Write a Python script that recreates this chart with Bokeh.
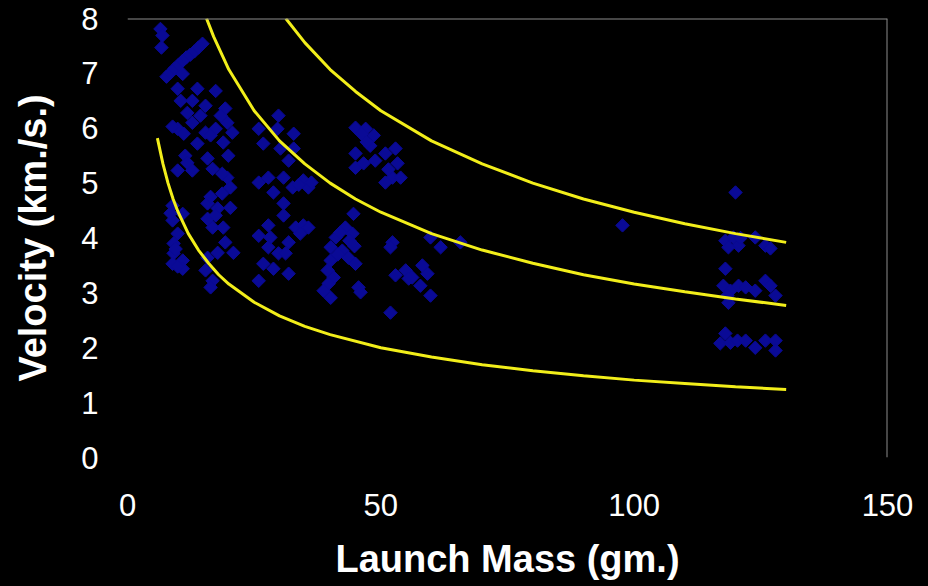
import numpy as np
from bokeh.plotting import figure
from bokeh.models import Range1d, Span, FixedTicker
from bokeh.embed import file_html
from bokeh.resources import INLINE

# ---- data ----
mass = [
    6.5, 6.9, 6.7,
    7.7, 8.5, 9.3, 10.1, 10.9, 11.6, 12.4, 13.2, 14.0, 14.8, 10.9,
    9.9, 13.8, 17.4, 10.5, 12.8, 15.4, 11.8, 14.4, 19.3, 18.4, 12.8, 9.9, 11.1, 15.4,
    17.4, 19.7, 20.7, 13.8, 18.9, 19.9, 11.4, 15.8, 11.8, 8.9, 16.4,
    9.9, 12.8, 16.8, 19.7, 20.3, 18.7, 15.8, 17.8, 20.3, 8.9, 10.9, 8.9, 15.8, 16.8,
    18.9, 9.9, 9.1, 19.3, 20.9, 9.1, 10.9, 8.9, 10.9, 15.8, 17.8, 15.4, 16.8, 16.4,
    17.4, 8.5, 9.5, 9.9, 18.7, 16.4,
    25.9, 29.8, 29.6, 32.8, 26.8, 30.2, 32.8, 31.8, 25.9, 27.8, 30.8, 28.8, 32.6,
    34.7, 35.7, 30.8, 30.8, 27.8, 25.9, 28.2, 33.2, 34.7, 34.1, 35.7, 31.8, 27.8,
    29.8, 31.2, 26.8, 28.8, 31.8, 25.9, 36.3, 33.8,
    45.0, 47.0, 48.6, 47.9, 45.0, 45.0, 46.6, 48.9, 50.9, 52.9, 53.3, 52.3, 50.9, 53.9,
    44.6, 43.0, 44.4, 41.1, 40.1, 42.4, 43.6, 45.0, 40.1, 39.5, 40.7, 39.7, 38.7, 40.1,
    45.6, 46.0, 52.3, 51.9, 52.9, 54.9, 55.5, 51.9,
    42.0, 43.8, 41.5, 44.8, 46.2, 47.2, 51.5,
    59.8, 61.8, 65.7, 56.2, 58.2, 59.2, 57.8, 59.8,
    97.7,
    120.0, 118.0, 119.6, 120.6, 118.6, 123.9, 125.9, 126.9, 118.0, 117.6, 119.0, 120.6,
    122.0, 123.9, 125.9, 126.9, 127.9, 118.6, 118.0, 117.0, 119.0, 120.4, 122.0, 123.9,
    125.9, 127.9, 127.9, 121.0, 118.4,
]
velocity = [
    7.81, 7.69, 7.47,
    6.94, 7.01, 7.09, 7.16, 7.23, 7.29, 7.34, 7.40, 7.47, 7.54, 6.99,
    6.72, 6.72, 6.68, 6.50, 6.50, 6.41, 6.28, 6.23, 6.36, 6.23, 6.10, 5.99, 5.90, 5.92,
    5.99, 6.10, 5.92, 5.72, 5.74, 5.50, 5.50, 5.45, 5.37, 6.03, 5.87,
    5.23, 5.23, 5.26, 5.10, 4.92, 4.81, 4.63, 4.54, 4.55, 4.59, 4.44, 4.32, 4.35, 4.19,
    4.19, 4.08, 3.90, 3.92, 3.73, 3.72, 3.59, 3.53, 3.44, 3.64, 3.73, 3.41, 3.22, 3.10,
    4.41, 4.45, 3.80, 3.48, 5.17, 4.75,
    5.99, 6.23, 5.99, 5.90, 5.72, 5.63, 5.63, 5.41, 5.01, 5.10, 5.10, 4.83, 4.92,
    5.05, 4.92, 4.63, 4.41, 4.23, 4.04, 4.01, 4.19, 4.23, 4.08, 4.19, 3.92, 3.83,
    3.72, 3.72, 3.53, 3.44, 3.35, 3.22, 5.01, 4.97,
    6.01, 5.99, 5.87, 5.68, 5.54, 5.28, 5.36, 5.41, 5.54, 5.63, 5.36, 5.10, 5.01, 5.10,
    4.44, 4.19, 4.08, 4.01, 3.83, 3.77, 3.64, 3.53, 3.59, 3.41, 3.28, 3.17, 3.04, 2.91,
    3.10, 3.01, 3.92, 3.83, 3.32, 3.41, 3.26, 2.64,
    4.10, 3.95, 3.70, 3.85, 5.90, 5.75, 5.25,
    4.01, 3.83, 3.92, 3.28, 3.50, 3.35, 3.13, 2.95,
    4.23,
    4.83, 3.95, 4.01, 3.86, 3.83, 4.01, 3.86, 3.81, 3.44, 3.13, 3.04, 3.13,
    3.10, 3.04, 3.22, 3.13, 2.95, 2.82, 2.26, 2.08, 2.09, 2.13, 2.13, 2.00,
    2.13, 2.13, 1.95, 4.00, 2.95,
]

low_m = [5.9, 7, 8, 9, 10, 12, 14, 16, 18, 20, 25, 30, 35, 40, 50, 60, 70, 80, 90, 100, 110, 120, 130]
low_v = [5.82, 5.35, 5.00, 4.71, 4.47, 4.08, 3.78, 3.54, 3.33, 3.16, 2.83, 2.58, 2.39, 2.24,
         2.00, 1.83, 1.69, 1.58, 1.49, 1.41, 1.35, 1.29, 1.24]
mid_m = [15.6, 17, 20, 25, 30, 35, 40, 45, 50, 60, 70, 80, 90, 100, 110, 120, 130]
mid_v = [8.00, 7.67, 7.07, 6.32, 5.77, 5.35, 5.00, 4.71, 4.47, 4.08, 3.78, 3.54, 3.33, 3.16,
         3.02, 2.89, 2.77]
top_m = [31.25, 35, 40, 45, 50, 60, 70, 80, 90, 100, 110, 120, 130]
top_v = [8.00, 7.56, 7.07, 6.67, 6.32, 5.77, 5.35, 5.00, 4.71, 4.47, 4.26, 4.08, 3.92]

x_ticks = [0, 50, 100, 150]
y_ticks = [0, 1, 2, 3, 4, 5, 6, 7, 8]

FONT = "Liberation Sans"

p = figure(width=928, height=586, output_backend="svg", toolbar_location=None,
           x_range=Range1d(0, 150), y_range=Range1d(0, 8),
           background_fill_color="black", border_fill_color="black",
           outline_line_color=None,
           min_border_left=127, min_border_right=41, min_border_top=18, min_border_bottom=129)
p.grid.visible = False

for ax in (p.xaxis[0], p.yaxis[0]):
    ax.axis_line_color = None
    ax.major_tick_line_color = None
    ax.minor_tick_line_color = None
    ax.major_label_text_color = "white"
    ax.major_label_text_font = FONT
    ax.major_label_text_font_size = "31px"
    ax.axis_label_text_color = "white"
    ax.axis_label_text_font = FONT
    ax.axis_label_text_font_style = "bold"
    ax.axis_label_text_font_size = "38px"

p.xaxis.ticker = FixedTicker(ticks=x_ticks)
p.yaxis.ticker = FixedTicker(ticks=y_ticks)
p.xaxis.axis_label = "Launch Mass (gm.)"
p.yaxis.axis_label = "Velocity (km./s.)"
p.xaxis.major_label_standoff = 30
p.yaxis.major_label_standoff = 23
p.xaxis.axis_label_standoff = 19
p.yaxis.axis_label_standoff = 24

p.add_layout(Span(location=8, dimension="width", line_color="#8c8c8c", line_width=2))
p.add_layout(Span(location=150, dimension="height", line_color="#8c8c8c", line_width=2))

p.scatter(mass, velocity, marker="square", angle=np.pi / 4, size=9.5,
          fill_color="#0A0A96", line_color="#0A0A96")

for xs, ys in ((low_m, low_v), (mid_m, mid_v), (top_m, top_v)):
    p.line(xs, ys, line_color="#F2EE1A", line_width=3)

html = file_html(p, INLINE)
html = html.replace("</head>", "<style>html,body{background:#000000;}</style></head>", 1)
open("out.html", "w").write(html)
